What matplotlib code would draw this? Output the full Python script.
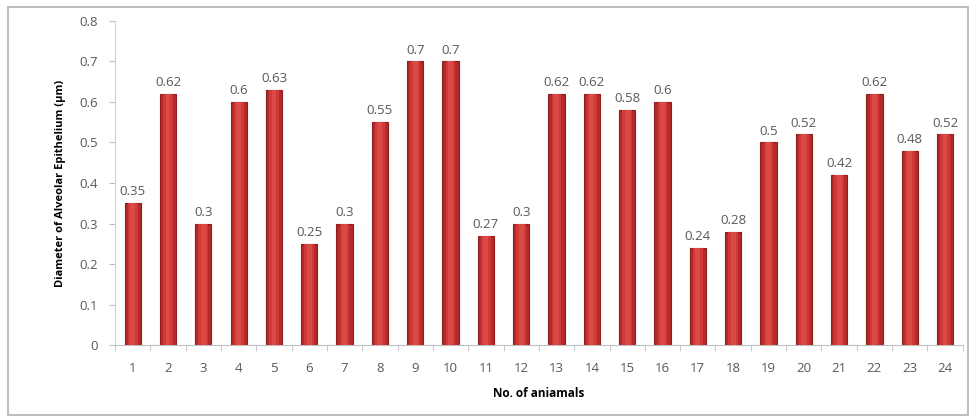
import numpy as np
import matplotlib.pyplot as plt
from matplotlib.patches import Rectangle

animals = [str(i) for i in range(1, 25)]
diametro = [0.35, 0.62, 0.3, 0.6, 0.63, 0.25, 0.3, 0.55, 0.7, 0.7, 0.27, 0.3,
            0.62, 0.62, 0.58, 0.6, 0.24, 0.28, 0.5, 0.52, 0.42, 0.62, 0.48, 0.52]
yticks = [0, 0.1, 0.2, 0.3, 0.4, 0.5, 0.6, 0.7, 0.8]
ytick_labels = ["0", "0.1", "0.2", "0.3", "0.4", "0.5", "0.6", "0.7", "0.8"]

plt.rcParams['font.family'] = ['Open Sans', 'DejaVu Sans']

fig = plt.figure(figsize=(9.69, 4.18), dpi=100)
ax = fig.add_axes([0.1187, 0.1746, 0.8748, 0.7752])

# marco gris alrededor del grafico
fig.patches.append(Rectangle((8/969, 3/418), 1 - 9/969, 1 - 10/418, transform=fig.transFigure,
                             fill=False, edgecolor='#bfbfbf', linewidth=1.5))

x = np.arange(len(animals))
w = 0.46
ax.bar(x, diametro, width=w, color='#b52a2a', edgecolor='#8e1c1c', linewidth=0.8, zorder=2)
# brillo central
ax.bar(x, diametro, width=w * 0.6, color='#cf3a38', linewidth=0, zorder=3)
ax.bar(x, diametro, width=w * 0.3, color='#dc4a47', linewidth=0, zorder=4)

for xi, v in zip(x, diametro):
    ax.text(xi, v + 0.012, "{:g}".format(v), ha='center', va='bottom', fontsize=9.5, color='#595959')

ax.set_xlim(-0.5, len(animals) - 0.5)
ax.set_ylim(0, 0.8)
ax.set_yticks(yticks)
ax.set_yticklabels(ytick_labels)
ax.set_xticks(x)
ax.set_xticklabels(animals)
ax.set_xticks(np.arange(-0.5, len(animals), 1), minor=True)
ax.tick_params(axis='x', which='major', length=0, pad=12, labelsize=9.5, labelcolor='#595959')
ax.tick_params(axis='x', which='minor', length=4, color='#bfbfbf', direction='out')
ax.tick_params(axis='y', length=4, color='#bfbfbf', labelsize=9.5, labelcolor='#595959', pad=8)

for s in ['top', 'right']:
    ax.spines[s].set_visible(False)
ax.spines['left'].set_color('#d0d0d0')
ax.spines['bottom'].set_color('#bfbfbf')

ax.set_ylabel("Diameter of Alveolar Epithelium (µm)", fontsize=8, fontweight='bold', labelpad=10)
ax.set_xlabel("No. of aniamals", fontsize=8.5, fontweight='bold', labelpad=9)

plt.savefig("out.png", dpi=100)
plt.close()
